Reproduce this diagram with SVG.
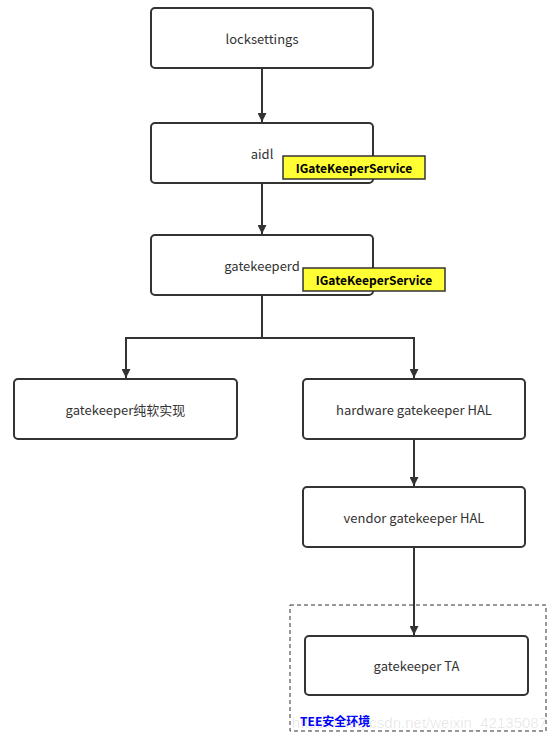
<svg xmlns="http://www.w3.org/2000/svg" width="558" height="741" viewBox="0 0 558 741">
<style>
.box{fill:#fff;stroke:#333;stroke-width:2}
.t{font-family:"Noto Sans CJK SC","Noto Sans",sans-serif;font-size:13px;fill:#333;text-anchor:middle;dominant-baseline:central}
.tag{fill:#ffff33;stroke:#333;stroke-width:1.5}
.tt{font-family:"Noto Sans CJK SC","Noto Sans",sans-serif;font-size:12px;font-weight:bold;fill:#000;text-anchor:middle;dominant-baseline:central}
.c{fill:none;stroke:#333;stroke-width:2}
</style>
<defs>
<marker id="ah" viewBox="0 0 10 10" refX="10" refY="5" markerWidth="13" markerHeight="9" markerUnits="userSpaceOnUse" orient="auto"><path d="M0,0L10,5L0,10z" fill="#333"/></marker>
</defs>
<rect width="558" height="741" fill="#fff"/>
<g id="tee">
<rect x="290" y="605" width="256" height="126" fill="none" stroke="#333" stroke-width="1" stroke-dasharray="4,3"/>
<text x="300" y="720" font-family="Noto Sans CJK SC,sans-serif" font-size="12" font-weight="bold" fill="#0000ff" dominant-baseline="central">TEE安全环境</text>
</g>
<g id="connectors">
<path class="c" d="M262,68V122" marker-end="url(#ah)"/>
<path class="c" d="M262,183V234" marker-end="url(#ah)"/>
<path class="c" d="M262,295V338H126V378" marker-end="url(#ah)"/>
<path class="c" d="M262,338H414V378" marker-end="url(#ah)"/>
<path class="c" d="M414,439V486" marker-end="url(#ah)"/>
<path class="c" d="M414,547V635" marker-end="url(#ah)"/>
</g>
<g id="locksettings"><rect class="box" x="151" y="8" width="222" height="60" rx="4"/><text class="t" x="262" y="38">locksettings</text></g>
<g id="aidl"><rect class="box" x="151" y="123" width="222" height="60" rx="4"/><text class="t" x="262" y="153">aidl</text></g>
<g id="aidl-tag"><rect class="tag" x="283" y="156" width="142" height="23"/><text class="tt" x="354" y="167.5">IGateKeeperService</text></g>
<g id="gatekeeperd"><rect class="box" x="151" y="235" width="222" height="60" rx="4"/><text class="t" x="262" y="265">gatekeeperd</text></g>
<g id="gatekeeperd-tag"><rect class="tag" x="303" y="268" width="142" height="23"/><text class="tt" x="374" y="279.5">IGateKeeperService</text></g>
<g id="soft"><rect class="box" x="14" y="379" width="223" height="60" rx="4"/><text class="t" x="125.5" y="409">gatekeeper纯软实现</text></g>
<g id="hwhal"><rect class="box" x="303" y="379" width="222" height="60" rx="4"/><text class="t" x="414" y="409">hardware gatekeeper HAL</text></g>
<g id="vendorhal"><rect class="box" x="303" y="487" width="222" height="60" rx="4"/><text class="t" x="414" y="517">vendor gatekeeper HAL</text></g>
<g id="ta"><rect class="box" x="305" y="636" width="223" height="59" rx="4"/><text class="t" x="416.5" y="665.5">gatekeeper TA</text></g>
<text x="547" y="722" font-family="Liberation Sans,sans-serif" font-size="15" fill="#000" fill-opacity="0.1" text-anchor="end" dominant-baseline="central">https://blog.csdn.net/weixin_42135087</text>
</svg>
